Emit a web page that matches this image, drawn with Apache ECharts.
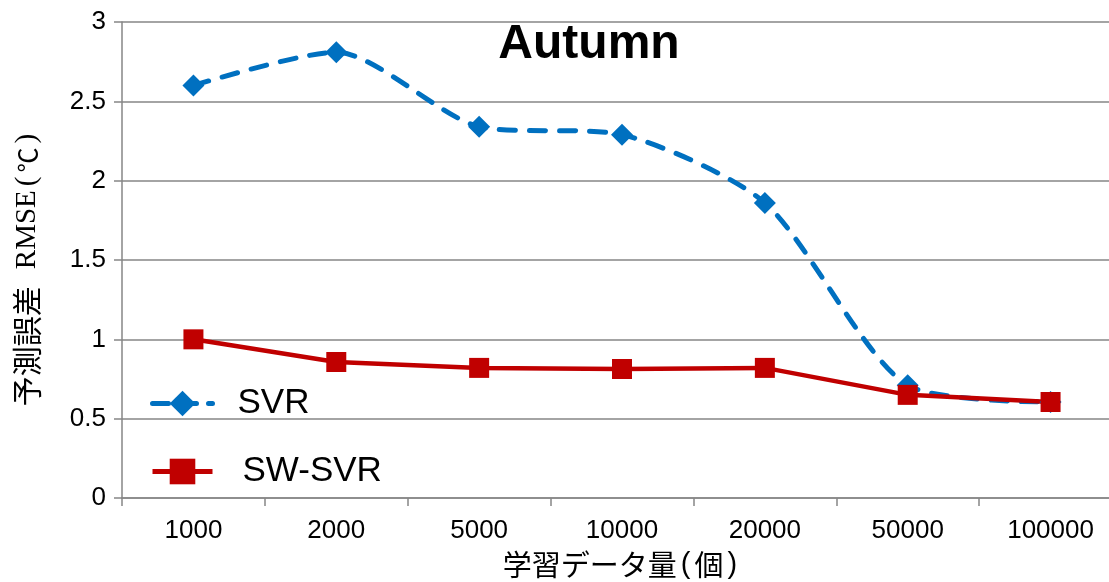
<!DOCTYPE html>
<html><head><meta charset="utf-8">
<script src="https://cdn.jsdelivr.net/npm/echarts@6/dist/echarts.min.js"></script>
<style>html,body{margin:0;padding:0;background:#fff}#c{width:1109px;height:582px}</style>
</head><body><div id="c"></div>
<script>
const categories = ['1000','2000','5000','10000','20000','50000','100000'];
const svr = [2.60, 2.81, 2.34, 2.29, 1.86, 0.71, 0.605];
const swsvr = [1.00, 0.857, 0.82, 0.813, 0.82, 0.65, 0.605];
const yTicks = [0, 0.5, 1, 1.5, 2, 2.5, 3];

const chart = echarts.init(document.getElementById('c'));
const axisGray = '#868686';
chart.setOption({
  animation: false,
  title: {
    text: 'Autumn', left: 584, top: 16, textAlign: 'center',
    textStyle: {fontFamily: 'Liberation Sans', fontWeight: 'bold', fontSize: 48, color: '#000'}
  },
  grid: {left: 122, top: 22, right: -13, bottom: 84, containLabel: false, outerBoundsMode: 'none'},
  legend: [
    {data: ['SVR'], left: 145, top: 381, orient: 'vertical', itemWidth: 60, itemHeight: 32,
     lineStyle: {width: 5, type: [16, 12], cap: 'round'},
     textStyle: {fontFamily: 'Liberation Sans', fontSize: 35, color: '#000', padding: [0,0,0,20]}},
    {data: ['SW-SVR'], left: 145, top: 449, orient: 'vertical', itemWidth: 60, itemHeight: 32,
     lineStyle: {width: 5},
     textStyle: {fontFamily: 'Liberation Sans', fontSize: 35, color: '#000', padding: [0,0,0,25]}}
  ],
  xAxis: {
    type: 'category', data: categories, boundaryGap: true,
    name: '{a|学習データ量}{p|(}{a|個}{p|)}', nameLocation: 'middle', nameGap: 52,
    nameTextStyle: {
      rich: {
        a: {fontFamily: 'Noto Sans CJK JP', fontSize: 29, color: '#000'},
        p: {fontFamily: 'Liberation Sans', fontSize: 29, color: '#000', padding: [0, 4, 0, 4]}
      }
    },
    axisLine: {lineStyle: {color: axisGray, width: 1.5}},
    axisTick: {show: true, length: 8, lineStyle: {color: axisGray, width: 1.5}},
    axisLabel: {fontFamily: 'Liberation Sans', fontSize: 26, color: '#000', margin: 20}
  },
  yAxis: {
    type: 'value', min: 0, max: 3, interval: 0.5,
    name: '{a|予測誤差}{s| }{b|RMSE}{p|(}{c|℃}{p|)}{e| }', nameLocation: 'middle', nameGap: 80, nameRotate: 90,
    nameTextStyle: {
      rich: {
        a: {fontFamily: 'Noto Sans CJK JP', fontSize: 30, color: '#000'},
        s: {width: 17},
        b: {fontFamily: 'Liberation Serif', fontSize: 29, color: '#000'},
        p: {fontFamily: 'Liberation Serif', fontSize: 29, color: '#000', padding: [0, 4, 0, 4]},
        c: {fontFamily: 'Noto Sans CJK JP', fontSize: 25, color: '#000'},
        e: {width: 16}
      }
    },
    axisLine: {show: true, lineStyle: {color: axisGray, width: 1.5}},
    axisTick: {show: true, length: 8, lineStyle: {color: axisGray, width: 1.5}},
    axisLabel: {fontFamily: 'Liberation Sans', fontSize: 26, color: '#000', margin: 16,
      formatter: v => yTicks.includes(v) ? String(v) : ''},
    splitLine: {show: true, lineStyle: {color: axisGray, width: 1.5}}
  },
  series: [
    {name: 'SVR', type: 'line', data: svr, smooth: 0.25,
     symbol: 'diamond', symbolSize: 22,
     itemStyle: {color: '#0070C0'},
     lineStyle: {color: '#0070C0', width: 5, type: [16, 14], cap: 'round'}},
    {name: 'SW-SVR', type: 'line', data: swsvr, smooth: false,
     symbol: 'rect', symbolSize: 20,
     itemStyle: {color: '#C00000'},
     lineStyle: {color: '#C00000', width: 4.5}}
  ]
});
</script></body></html>
